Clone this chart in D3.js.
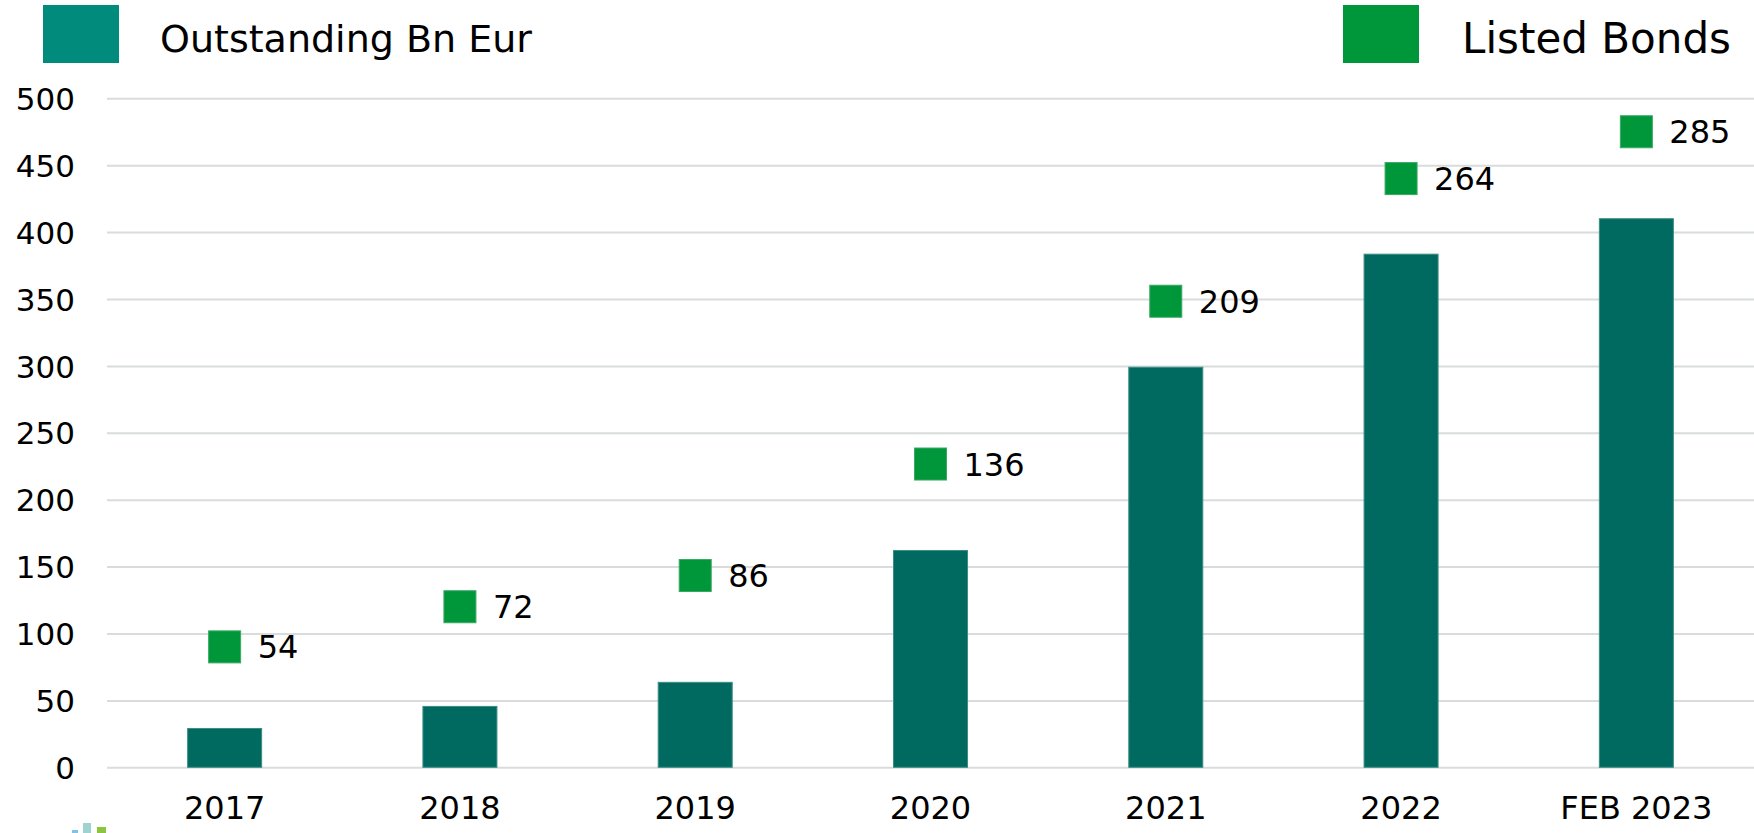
<!DOCTYPE html>
<html>
<head>
<meta charset="utf-8">
<script src="https://cdn.jsdelivr.net/npm/d3@7"></script>
<style>
  body { margin:0; background:#fff; }
  svg text { font-family: "DejaVu Sans", Verdana, sans-serif; fill:#000; }
</style>
</head>
<body>
<div id="canvas"></div>
<script>
// data
var categories = ["2017", "2018", "2019", "2020", "2021", "2022", "FEB 2023"];
var outstanding = [29, 45.5, 63.5, 162, 299, 383.5, 410];   // bars, left axis
var listedBonds = [54, 72, 86, 136, 209, 264, 285];         // markers, hidden right axis
var yTicks = [0, 50, 100, 150, 200, 250, 300, 350, 400, 450, 500];

var W = 1754, H = 833;
var m = {t:98.3, r:0, b:H - 767.3, l:107};

var svg = d3.select('#canvas')
    .append('svg')
    .attr('width', W)
    .attr('height', H);

// scales
var scaleX = d3.scaleBand()
    .domain(categories)
    .range([m.l, W])
    .padding(0);

var scaleY = d3.scaleLinear()
    .domain([0, 500])
    .range([H - m.b, m.t]);

// secondary axis for the listed bonds (not drawn)
var scaleY2 = d3.scaleLinear()
    .domain([0, 300])
    .range([H - m.b, m.t]);

var barW = 74, mk = 32;

// gridlines + y labels via axis
var axisY = d3.axisLeft(scaleY)
    .tickValues(yTicks)
    .tickSize(-(W - m.l))
    .tickPadding(32);

var axisNode = svg.append('g')
    .attr('class', 'axis axis-y')
    .attr('transform', 'translate(' + m.l + ',0)')
    .call(axisY);
axisNode.select('.domain').remove();
axisNode.selectAll('line').attr('stroke', '#d9dcdc').attr('stroke-width', 2);
axisNode.selectAll('text')
    .style('font-size', '31px')
    .attr('dy', '0.36em');

// bars
svg.selectAll('rect.bar')
    .data(outstanding)
    .enter()
    .append('rect')
    .attr('class', 'bar')
    .attr('x', function(d, i){ return scaleX(categories[i]) + scaleX.bandwidth()/2 - barW/2; })
    .attr('y', function(d){ return scaleY(d); })
    .attr('width', barW)
    .attr('height', function(d){ return scaleY(0) - scaleY(d); })
    .attr('fill', '#006a60')
    .attr('stroke', '#3a8e84')
    .attr('stroke-width', 1);

// markers
svg.selectAll('rect.mk')
    .data(listedBonds)
    .enter()
    .append('rect')
    .attr('class', 'mk')
    .attr('x', function(d, i){ return scaleX(categories[i]) + scaleX.bandwidth()/2 - mk/2; })
    .attr('y', function(d){ return scaleY2(d) - mk/2; })
    .attr('width', mk)
    .attr('height', mk)
    .attr('fill', '#00963a')
    .attr('stroke', '#3aa864')
    .attr('stroke-width', 1);

// marker labels
svg.selectAll('text.lbl')
    .data(listedBonds)
    .enter()
    .append('text')
    .attr('class', 'lbl')
    .attr('x', function(d, i){ return scaleX(categories[i]) + scaleX.bandwidth()/2 + mk/2 + 17; })
    .attr('y', function(d){ return scaleY2(d); })
    .attr('dy', '0.36em')
    .style('font-size', '32px')
    .text(function(d){ return d; });

// x axis labels
var axisX = d3.axisBottom(scaleX).tickSize(0).tickPadding(29);
var axisNode2 = svg.append('g')
    .attr('class', 'axis axis-x')
    .attr('transform', 'translate(0,' + scaleY(0) + ')')
    .call(axisX);
axisNode2.select('.domain').remove();
axisNode2.selectAll('text').style('font-size', '32px');

// legend
var legend = svg.append('g').attr('class', 'legend');
legend.append('rect').attr('x', 43).attr('y', 5).attr('width', 76).attr('height', 58).attr('fill', '#008b7d');
legend.append('text').attr('x', 160).attr('y', 52).style('font-size', '38px').text('Outstanding Bn Eur');
legend.append('rect').attr('x', 1343).attr('y', 5).attr('width', 76).attr('height', 58).attr('fill', '#00963a');
legend.append('text').attr('x', 1462).attr('y', 53).style('font-size', '42px').text('Listed Bonds');

// bit of a logo peeking in at the bottom left
var logo = svg.append('g').attr('class', 'logo');
logo.append('rect').attr('x', 83).attr('y', 823).attr('width', 8).attr('height', 10).attr('fill', '#9fd3d0');
logo.append('rect').attr('x', 97).attr('y', 827).attr('width', 9).attr('height', 6).attr('fill', '#8cc63f');
logo.append('rect').attr('x', 72).attr('y', 830).attr('width', 6).attr('height', 3).attr('fill', '#7fc4e8');
</script>
</body>
</html>
